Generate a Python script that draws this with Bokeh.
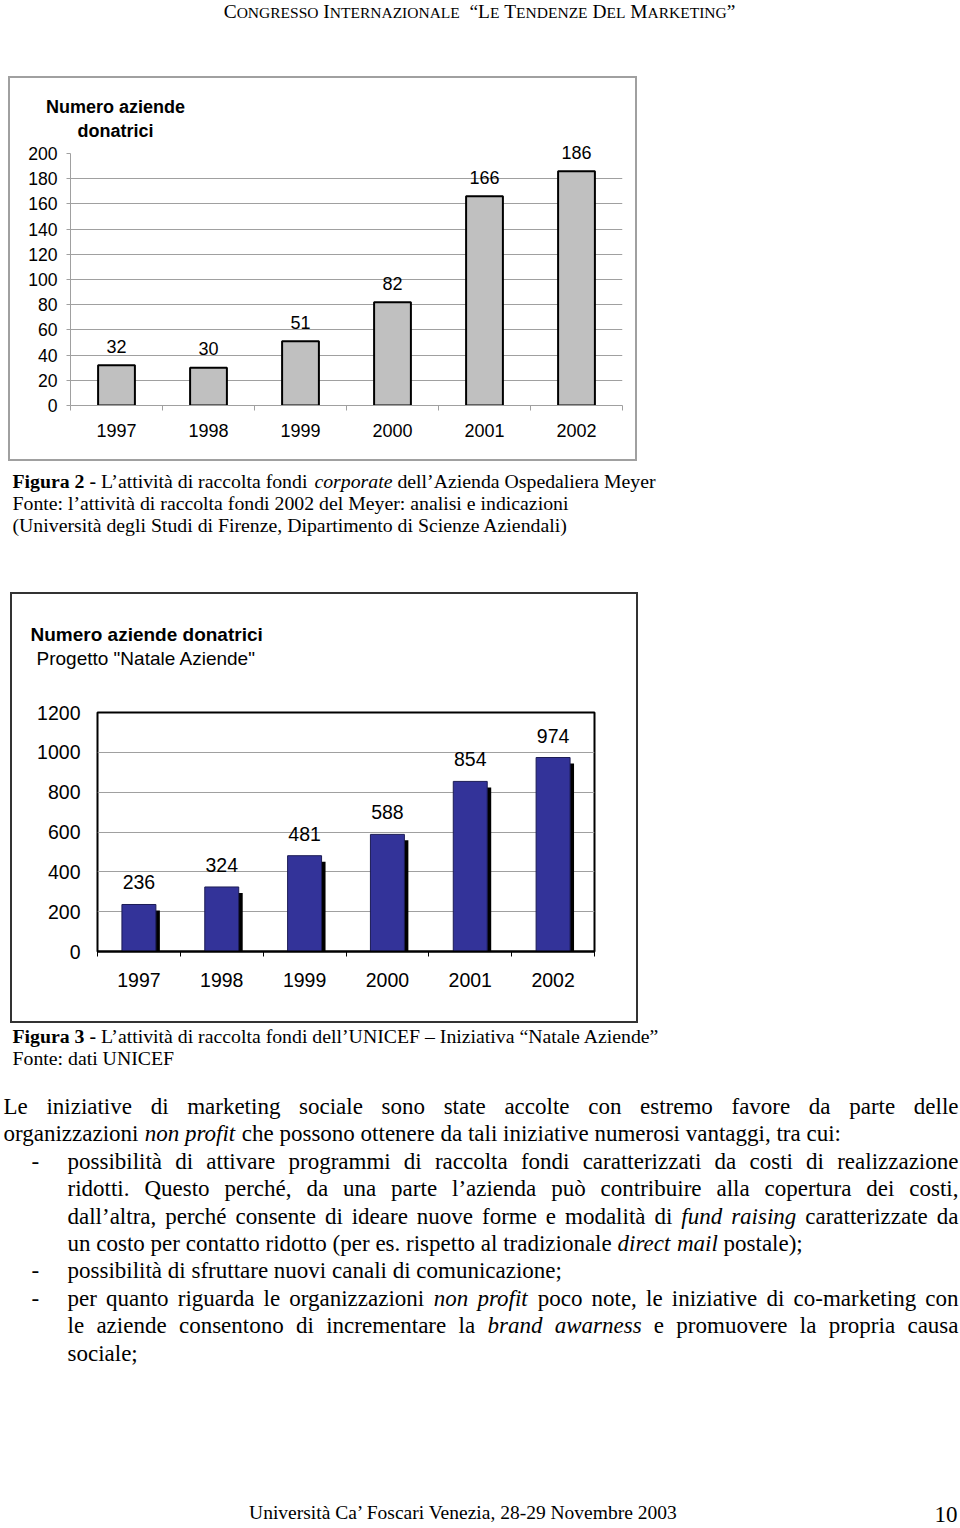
from bokeh.plotting import figure
from bokeh.models import Range1d, FixedTicker, ColumnDataSource, Spacer
from bokeh.layouts import row, column
from bokeh.transform import dodge
from bokeh.core.properties import value
from bokeh.embed import file_html
from bokeh.resources import INLINE

# ---------------- data ----------------
years = ["1997", "1998", "1999", "2000", "2001", "2002"]
meyer_donors = [32, 30, 51, 82, 166, 186]
unicef_donors = [236, 324, 481, 588, 854, 974]
meyer_yticks = [0, 20, 40, 60, 80, 100, 120, 140, 160, 180, 200]
unicef_yticks = [0, 200, 400, 600, 800, 1000, 1200]
chart_title = ["Numero aziende", "donatrici"]
chart2_title = "Numero aziende donatrici"
chart2_subtitle = 'Progetto "Natale Aziende"'

header_runs = [("C", "B"), ("ONGRESSO", "S"), (" ", "B"), ("I", "B"), ("NTERNAZIONALE", "S"),
               ("  ", "B"), ("\u201cL", "B"), ("E", "S"), (" ", "B"), ("T", "B"), ("ENDENZE", "S"),
               (" ", "B"), ("D", "B"), ("EL", "S"), (" ", "B"), ("M", "B"), ("ARKETING", "S"),
               ("\u201d", "B")]
caption2 = [
    [("Figura 2 - ", "bold"), ("L\u2019attivit\u00e0 di raccolta fondi ", "normal"), ("corporate", "italic"),
     (" dell\u2019Azienda Ospedaliera Meyer", "normal")],
    [("Fonte: l\u2019attivit\u00e0 di raccolta fondi 2002 del Meyer: analisi e indicazioni", "normal")],
    [("(Universit\u00e0 degli Studi di Firenze, Dipartimento di Scienze Aziendali)", "normal")],
]
caption3 = [
    [("Figura 3 - ", "bold"),
     ("L\u2019attivit\u00e0 di raccolta fondi dell\u2019UNICEF \u2013 Iniziativa \u201cNatale Aziende\u201d", "normal")],
    [("Fonte: dati UNICEF", "normal")],
]
# (bullet, justified, text)  -- *...* marks italic words
body = [
    (False, True, "Le iniziative di marketing sociale sono state accolte con estremo favore da parte delle"),
    (False, False, "organizzazioni *non profit* che possono ottenere da tali iniziative numerosi vantaggi, tra cui:"),
    (True, True, "possibilit\u00e0 di attivare programmi di raccolta fondi caratterizzati da costi di realizzazione"),
    (None, True, "ridotti. Questo perch\u00e9, da una parte l\u2019azienda pu\u00f2 contribuire alla copertura dei costi,"),
    (None, True, "dall\u2019altra, perch\u00e9 consente di ideare nuove forme e modalit\u00e0 di *fund raising* caratterizzate da"),
    (None, False, "un costo per contatto ridotto (per es. rispetto al tradizionale *direct mail* postale);"),
    (True, False, "possibilit\u00e0 di sfruttare nuovi canali di comunicazione;"),
    (True, True, "per quanto riguarda le organizzazioni *non profit* poco note, le iniziative di co-marketing con"),
    (None, True, "le aziende consentono di incrementare la *brand awarness* e promuovere la propria causa"),
    (None, False, "sociale;"),
]
footer = "Universit\u00e0 Ca\u2019 Foscari Venezia, 28-29 Novembre 2003"
page_no = "10"


def W(a, b):
    return round(b) - round(a)


H = W


def fsz(v):
    return f"{v:.2f}px"


# ---------------- Times (Liberation Serif) metrics ----------------
def _tbl(groups):
    d = {}
    for chars, w in groups:
        for ch in chars:
            d[ch] = w
    return d


ROMAN = _tbl([(" ,.", 250), (":;ijlt/\u00ec\u00ed", 278), ("!()-frI\u2019\u2018[]", 333), ("sJ", 389),
              ('"', 408), ("acez?\u00e0\u00e1\u00e8\u00e9\u201c\u201d", 444),
              ("bdghknopquvxy0123456789\u00f2\u00f3\u00f9\u00fa\u2013", 500), ("FPS", 556), ("ELTZ", 611),
              ("BCR", 667), ("ADGHKNOQUVXYw", 722), ("m", 778), ("M", 889), ("W", 944)])
ITALIC = _tbl([(" ,.", 250), ("fijlt", 278), ("!()-:;I\u2019\u2018", 333), ("rsz", 389),
               ("ce\u00e9kvxy", 444), ("abdghnopqu0123456789\u00e0\u00f2\u00f9", 500), ("w", 667),
               ("m", 722)])
BOLD = _tbl([(" ,.", 250), ("il", 278), ("-fIjt", 333), ("s", 389), ("cerz", 444),
             ("agovxy0123456789\u201c\u201d", 500), ("bdhknpqu", 556), ("F", 611), ("w", 722), ("m", 833)])
TABLES = {"normal": ROMAN, "italic": ITALIC, "bold": BOLD}


def tw(s, style):
    t = TABLES[style]
    return sum(t.get(ch, 500) for ch in s) / 1000.0


def parse(line):
    toks, ital = [], False
    for w in line.split(" "):
        st = ital
        if w.startswith("*"):
            ital, st, w = True, True, w[1:]
        end = w.endswith("*")
        if end:
            w = w[:-1]
        toks.append((w, "italic" if st else "normal"))
        if end:
            ital = False
    return toks


def set_no_align(f):
    try:
        f.frame_align = False
    except Exception:
        pass


class TextCanvas:
    def __init__(self, x0, x1, y0, y1):
        self.fig = figure(width=W(x0, x1), height=H(y0, y1), x_range=Range1d(x0, x1),
                          y_range=Range1d(y1, y0), toolbar_location=None, output_backend="svg",
                          min_border=0, x_axis_location=None, y_axis_location=None)
        set_no_align(self.fig)
        self.fig.grid.visible = False
        self.fig.outline_line_color = None
        self.fig.background_fill_color = "white"
        self.fig.border_fill_color = "white"
        self.groups = {}

    def put(self, x, y, s, size, style="normal", font="Liberation Serif", align="left", baseline="middle"):
        key = (size, style, font, align, baseline)
        g = self.groups.setdefault(key, {"x": [], "y": [], "t": []})
        g["x"].append(x)
        g["y"].append(y)
        g["t"].append(s)

    def runs(self, x, y, runs, size, baseline="middle"):
        for s, st in runs:
            lead = s[:len(s) - len(s.lstrip(" "))]
            x += tw(lead, st) * size
            body_txt = s.lstrip(" ")
            if body_txt.strip():
                self.put(x, y, body_txt.rstrip(" "), size, st, baseline=baseline)
            x += tw(body_txt, st) * size
        return x

    def words(self, x0, x1, y, line, size, justify):
        toks = parse(line)
        widths = [tw(w, st) * size for w, st in toks]
        if justify and len(toks) > 1:
            gap = (x1 - x0 - sum(widths)) / (len(toks) - 1)
        else:
            gap = 0.25 * size
        x = x0
        for (w, st), wd in zip(toks, widths):
            self.put(x, y, w, size, st)
            x += wd + gap

    def finish(self):
        for (size, style, font, align, baseline), g in self.groups.items():
            self.fig.text(x=g["x"], y=g["y"], text=g["t"], text_font=value(font),
                          text_font_size=value(fsz(size)), text_font_style=value(style),
                          text_align=align, text_baseline=baseline, text_color="black")
        return self.fig


def line_block(w, h, color):
    return Spacer(width=w, height=h, styles={"background-color": color})


SANS = "Liberation Sans"

# category slots on a numeric axis: centre of slot i is i + 0.5
slot_centre = [i + 0.5 for i in range(len(years))]
slot_edges = list(range(len(years) + 1))


def style_cat_axis(ax, color, lw, standoff, size):
    ax.ticker = FixedTicker(ticks=slot_centre, minor_ticks=slot_edges)
    ax.major_label_overrides = dict(zip(slot_centre, years))
    ax.axis_line_color = color
    ax.axis_line_width = lw
    ax.major_tick_line_color = None
    ax.major_tick_out = 0
    ax.major_tick_in = 0
    ax.minor_tick_line_color = color
    ax.minor_tick_out = 5
    ax.minor_tick_in = 0
    ax.major_label_standoff = standoff
    ax.major_label_text_font = SANS
    ax.major_label_text_font_size = fsz(size)
    ax.major_label_text_color = "black"


# ---------------- header ----------------
tA = TextCanvas(0, 960, 0, 76)
BIG, SMALL = 19.4, 15.5
hw = sum(tw(s, "normal") * (BIG if k == "B" else SMALL) for s, k in header_runs)
hx = 479 - hw / 2
HBASE = 16.5
for s, k in header_runs:
    sz = BIG if k == "B" else SMALL
    if s.strip():
        tA.put(hx, HBASE - 0.3 * sz, s, sz, "normal")
    hx += tw(s, "normal") * sz
figA = tA.finish()

# ---------------- chart 1 (Meyer) ----------------
GRAY = "#a0a0a0"
SPLIT1 = 141
t1 = TextCanvas(10, 635, 78, SPLIT1)
for i, s in enumerate(chart_title):
    t1.put(115, 106 + 24 * i, s, 18, "bold", font=SANS, align="center")
title1 = t1.finish()

f_top, f_bot, y_top_tick = SPLIT1, 405, 153
ymax1 = meyer_yticks[-1] * (f_bot - f_top) / (f_bot - y_top_tick)
p1 = figure(width=W(10, 635), height=H(SPLIT1, 459), x_range=Range1d(0, len(years)),
            y_range=Range1d(0, ymax1), toolbar_location=None, output_backend="svg",
            min_border_left=W(10, 70), min_border_right=W(622, 635), min_border_top=0,
            min_border_bottom=H(405, 459))
set_no_align(p1)
p1.outline_line_color = None
p1.background_fill_color = "white"
p1.border_fill_color = "white"
p1.xgrid.visible = False
p1.yaxis.ticker = FixedTicker(ticks=meyer_yticks)
p1.yaxis.bounds = (meyer_yticks[0], meyer_yticks[-1])
p1.yaxis.axis_line_color = GRAY
p1.yaxis.major_tick_line_color = GRAY
p1.yaxis.major_tick_out = 4
p1.yaxis.major_tick_in = 0
p1.yaxis.minor_tick_line_color = None
p1.yaxis.major_label_standoff = 9
p1.yaxis.major_label_text_font = SANS
p1.yaxis.major_label_text_font_size = fsz(17.6)
p1.yaxis.major_label_text_color = "black"
p1.ygrid.ticker = FixedTicker(ticks=meyer_yticks[1:-1])
p1.ygrid.grid_line_color = GRAY
p1.ygrid.grid_line_width = 1
style_cat_axis(p1.xaxis[0], GRAY, 1, 13, 18)

src1 = ColumnDataSource(dict(x=slot_centre, year=years, n=meyer_donors,
                             label=[str(v) for v in meyer_donors]))
p1.vbar(x="x", top="n", width=0.4, source=src1, fill_color="#c0c0c0", line_color="black",
        line_width=2)
p1.text(x="x", y="n", text="label", source=src1, text_align="center", text_baseline="middle",
        y_offset=-19, text_font=value(SANS), text_font_size=value(fsz(18)), text_color="black")

box1 = column(
    line_block(W(8, 637), H(76, 78), GRAY),
    row(line_block(W(8, 10), H(78, 459), GRAY), column(title1, p1), line_block(W(635, 637), H(78, 459), GRAY)),
    line_block(W(8, 637), H(459, 461), GRAY),
)
blockB = row(Spacer(width=W(0, 8), height=H(76, 461)), box1, Spacer(width=W(637, 960), height=H(76, 461)))

# ---------------- caption 2 ----------------
tC = TextCanvas(0, 960, 461, 592)
for i, runs in enumerate(caption2):
    tC.runs(12, 480 + 22 * i, runs, 19.8)
figC = tC.finish()

# ---------------- chart 2 (UNICEF) ----------------
DARK = "#333333"
t2 = TextCanvas(12, 636, 594, 700)
t2.put(30, 634, chart2_title, 19, "bold", font=SANS)
t2.put(36, 658, chart2_subtitle, 19, "normal", font=SANS)
title2 = t2.finish()

p2 = figure(width=W(12, 636), height=H(700, 1021), x_range=Range1d(0, len(years)),
            y_range=Range1d(unicef_yticks[0], unicef_yticks[-1]),
            toolbar_location=None, output_backend="svg",
            min_border_left=W(12, 97), min_border_right=W(594, 636), min_border_top=H(700, 712),
            min_border_bottom=H(951, 1021))
set_no_align(p2)
p2.outline_line_color = "black"
p2.outline_line_width = 2
p2.background_fill_color = "white"
p2.border_fill_color = "white"
p2.xgrid.visible = False
p2.yaxis.ticker = FixedTicker(ticks=unicef_yticks)
p2.yaxis.axis_line_color = None
p2.yaxis.major_tick_line_color = None
p2.yaxis.major_tick_out = 0
p2.yaxis.major_tick_in = 0
p2.yaxis.minor_tick_line_color = None
p2.yaxis.major_label_standoff = 17
p2.yaxis.major_label_text_font = SANS
p2.yaxis.major_label_text_font_size = fsz(19.5)
p2.yaxis.major_label_text_color = "black"
p2.ygrid.grid_line_color = GRAY
p2.ygrid.grid_line_width = 1
style_cat_axis(p2.xaxis[0], "black", 2, 16, 19.5)

src2 = ColumnDataSource(dict(x=slot_centre, year=years, n=unicef_donors,
                             label=[str(v) for v in unicef_donors]))
p2.vbar(x=dodge("x", 0.048), top=dodge("n", -30), width=0.41, source=src2,
        fill_color="black", line_color=None)
p2.vbar(x="x", top="n", width=0.41, source=src2, fill_color="#333399", line_color="#1c1c55",
        line_width=1)
p2.text(x="x", y="n", text="label", source=src2, text_align="center", text_baseline="middle",
        y_offset=-22, text_font=value(SANS), text_font_size=value(fsz(19.5)), text_color="black")

box2 = column(
    line_block(W(10, 638), H(592, 594), DARK),
    row(line_block(W(10, 12), H(594, 1021), DARK), column(title2, p2), line_block(W(636, 638), H(594, 1021), DARK)),
    line_block(W(10, 638), H(1021, 1023), DARK),
)
blockD = row(Spacer(width=W(0, 10), height=H(592, 1023)), box2, Spacer(width=W(638, 960), height=H(592, 1023)))

# ---------------- caption 3, body, footer ----------------
tE = TextCanvas(0, 960, 1023, 1528)
for i, runs in enumerate(caption3):
    tE.runs(12, 1035 + 22 * i, runs, 19.8)
BODY = 23
for i, (bullet, just, line) in enumerate(body):
    y = 1106 + 27.4 * i
    x0 = 3 if bullet is False else 67
    if bullet:
        tE.put(31, y, "-", BODY)
    tE.words(x0, 958, y, line, BODY, just)
tE.put(678, 1512, footer, 19.5, align="right")
tE.put(957, 1514, page_no, 23, align="right")
figE = tE.finish()

layout = column(figA, blockB, figC, blockD, figE)
open("out.html", "w").write(file_html(layout, INLINE))
